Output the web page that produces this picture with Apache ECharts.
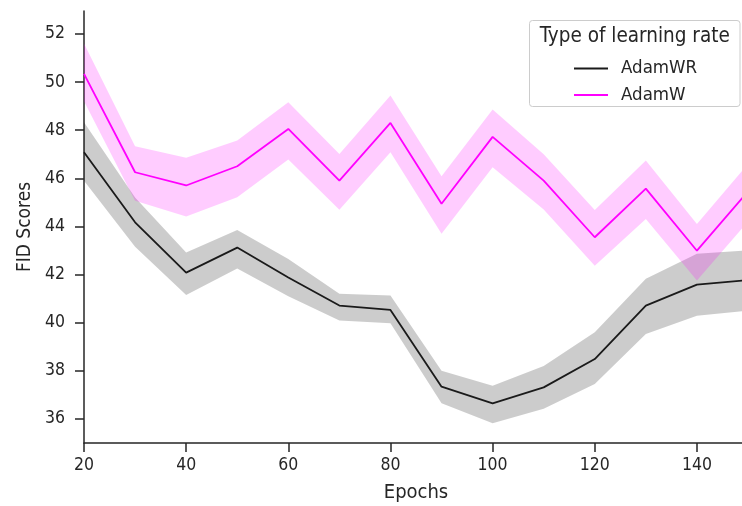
<!DOCTYPE html>
<html>
<head>
<meta charset="utf-8">
<script src="https://cdn.jsdelivr.net/npm/echarts@6/dist/echarts.min.js"></script>
<style>
html,body{margin:0;padding:0;background:#fff;}
#chart{width:742px;height:506px;}
</style>
</head>
<body>
<div id="chart"></div>
<script>
// ---- data ----
var epochs = [20, 30, 40, 50, 60, 70, 80, 90, 100, 110, 120, 130, 140, 150];

var adamWR_mean = [47.08, 44.17, 42.08, 43.12, 41.88, 40.71, 40.53, 37.34, 36.65, 37.31, 38.49, 40.71, 41.58, 41.77];
var adamWR_lo   = [45.90, 43.15, 41.15, 42.25, 41.10, 40.09, 39.98, 36.65, 35.82, 36.42, 37.45, 39.53, 40.29, 40.50];
var adamWR_hi   = [48.33, 45.20, 42.92, 43.85, 42.65, 41.20, 41.13, 38.00, 37.38, 38.20, 39.60, 41.82, 42.86, 43.00];

var adamW_mean = [50.34, 46.25, 45.70, 46.50, 48.05, 45.90, 48.30, 44.94, 47.72, 45.90, 43.55, 45.57, 42.99, 45.45];
var adamW_lo   = [49.20, 45.07, 44.41, 45.21, 46.78, 44.69, 47.08, 43.69, 46.46, 44.70, 42.37, 44.31, 41.75, 44.20];
var adamW_hi   = [51.60, 47.33, 46.85, 47.57, 49.16, 47.01, 49.44, 46.08, 48.86, 47.00, 44.68, 46.74, 44.10, 46.60];

var yTicks = [36, 38, 40, 42, 44, 46, 48, 50, 52];

var seriesNames = ['AdamWR', 'AdamW'];
var legendTitle = 'Type of learning rate';
var xName = 'Epochs';
var yName = 'FID Scores';

// ---- helpers ----
function diffs(lo, hi) { return lo.map(function (v, i) { return +(hi[i] - v).toFixed(4); }); }

var FONT = "'DejaVu Sans Condensed', 'DejaVu Sans', sans-serif";
var TXT = '#262626';

var chart = echarts.init(document.getElementById('chart'), null, {renderer: 'canvas'});

function bandLower(name, lo, stack) {
  return {
    name: name, type: 'line', stack: stack, data: lo,
    symbol: 'none', lineStyle: {opacity: 0, width: 0}, silent: true, z: 1
  };
}
function bandUpper(name, lo, hi, stack, color) {
  return {
    name: name, type: 'line', stack: stack, data: diffs(lo, hi),
    symbol: 'none', lineStyle: {opacity: 0, width: 0},
    areaStyle: {color: color, opacity: 1}, silent: true, z: 1
  };
}

var option = {
  animation: false,
  backgroundColor: '#ffffff',
  grid: {left: 84, right: -6, top: 11, bottom: 63, containLabel: false, outerBoundsMode: 'none'},
  xAxis: {
    type: 'category', data: epochs.map(String), boundaryGap: false,
    name: xName, nameLocation: 'middle', nameGap: 40,
    nameTextStyle: {fontFamily: FONT, fontSize: 20, color: TXT},
    axisLine: {show: true, lineStyle: {color: TXT, width: 1.5}},
    axisTick: {show: true, length: 9, interval: 1, lineStyle: {color: TXT, width: 1.5}},
    axisLabel: {fontFamily: FONT, fontSize: 17.5, color: TXT, margin: 13, interval: 1},
    splitLine: {show: false}
  },
  yAxis: {
    type: 'value', min: 35, max: 52.95,
    name: yName, nameLocation: 'middle', nameGap: 49,
    nameTextStyle: {fontFamily: FONT, fontSize: 19, color: TXT},
    axisLine: {show: true, lineStyle: {color: TXT, width: 1.5}},
    axisTick: {show: true, length: 9, lineStyle: {color: TXT, width: 1.5}, customValues: yTicks},
    axisLabel: {fontFamily: FONT, fontSize: 17.5, color: TXT, margin: 19, customValues: yTicks},
    splitLine: {show: false}
  },
  legend: [
    {
      data: [seriesNames[0]], left: 569, top: 54, orient: 'vertical',
      icon: 'rect', itemWidth: 34, itemHeight: 2, selectedMode: false,
      textStyle: {fontFamily: FONT, fontSize: 18.5, color: TXT, padding: [0, 0, 0, 8]}
    },
    {
      data: [seriesNames[1]], left: 569, top: 80.5, orient: 'vertical',
      icon: 'rect', itemWidth: 34, itemHeight: 2, selectedMode: false,
      textStyle: {fontFamily: FONT, fontSize: 18.5, color: TXT, padding: [0, 0, 0, 8]}
    }
  ],
  graphic: [
    {
      type: 'rect', z: 3, silent: true,
      shape: {x: 529.5, y: 20.5, width: 210.5, height: 86, r: 3},
      style: {fill: 'rgba(255,255,255,0.8)', stroke: '#cccccc', lineWidth: 1}
    },
    {
      type: 'text', z: 5, silent: true, x: 634.8, y: 37,
      style: {text: legendTitle, fontFamily: FONT, fontSize: 20.5, fill: TXT, align: 'center', verticalAlign: 'middle'}
    }
  ],
  series: [
    bandLower('wr_lo', adamWR_lo, 'wr'),
    bandUpper('wr_band', adamWR_lo, adamWR_hi, 'wr', 'rgba(0,0,0,0.2)'),
    bandLower('w_lo', adamW_lo, 'w'),
    bandUpper('w_band', adamW_lo, adamW_hi, 'w', 'rgba(255,0,255,0.2)'),
    {
      name: seriesNames[0], type: 'line', data: adamWR_mean,
      symbol: 'none', color: '#1a1a1a', lineStyle: {color: '#1a1a1a', width: 1.8}, z: 3
    },
    {
      name: seriesNames[1], type: 'line', data: adamW_mean,
      symbol: 'none', color: '#ff00ff', lineStyle: {color: '#ff00ff', width: 1.8}, z: 3
    }
  ]
};
chart.setOption(option);
</script>
</body>
</html>
